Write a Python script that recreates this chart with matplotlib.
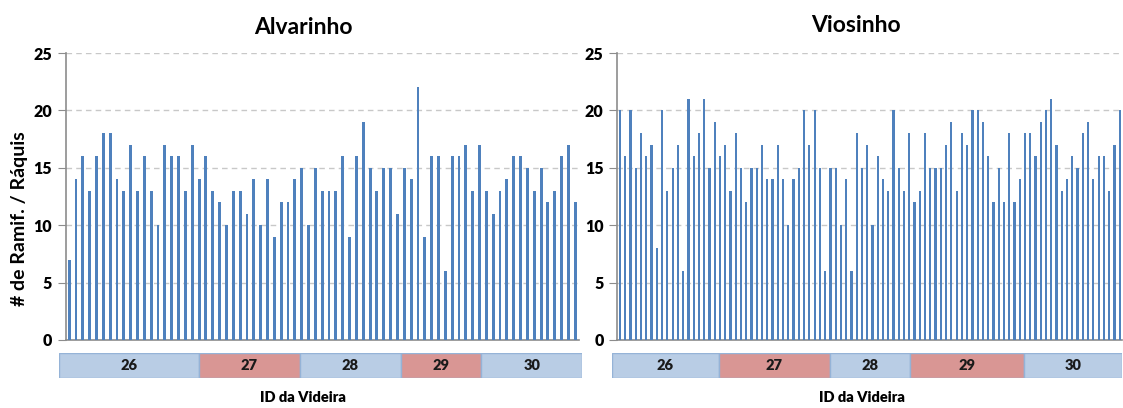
import matplotlib
matplotlib.use("Agg")
import matplotlib.pyplot as plt
from matplotlib.patches import Rectangle

plt.rcParams['font.family'] = ['Lato', 'DejaVu Sans']

# number of ramifications per rachis, one value per bunch
alvarinho = [7, 14, 16, 13, 16, 18, 18, 14, 13, 17, 13, 16, 13, 10, 17, 16, 16, 13, 17, 14,
             16, 13, 12, 10, 13, 13, 11, 14, 10, 14, 9, 12, 12, 14, 15, 10, 15, 13, 13, 13,
             16, 9, 16, 19, 15, 13, 15, 15, 11, 15, 14, 22, 9, 16, 16, 6, 16, 16, 17, 13,
             17, 13, 11, 13, 14, 16, 16, 15, 13, 15, 12, 13, 16, 17, 12]
viosinho = [20, 16, 20, 15, 18, 16, 17, 8, 20, 13, 15, 17, 6, 21, 16, 18, 21, 15, 19, 16,
            17, 13, 18, 15, 12, 15, 15, 17, 14, 14, 17, 14, 10, 14, 15, 20, 17, 20, 15, 6,
            15, 15, 10, 14, 6, 18, 15, 17, 10, 16, 14, 13, 20, 15, 13, 18, 12, 13, 18, 15,
            15, 15, 17, 19, 13, 18, 17, 20, 20, 19, 16, 12, 15, 12, 18, 12, 14, 18, 18, 16,
            19, 20, 21, 17, 13, 14, 16, 15, 18, 19, 14, 16, 16, 13, 17, 20]

# vine id strips under each chart (edges in bar units)
vine_ids = ['26', '27', '28', '29', '30']
alv_edges = [0, 20, 34.5, 49, 60.5, 75]
vio_edges = [0, 20, 41, 56, 77.5, 96]
strip_colors = ['#B9CDE5', '#D99694', '#B9CDE5', '#D99694', '#B9CDE5']

W, H = 1123, 408
fig = plt.figure(figsize=(W / 100, H / 100), dpi=100)


def px(l, t, r, b):
    return [l / W, (H - b) / H, (r - l) / W, (b - t) / H]


def draw_panel(rect, values):
    ax = fig.add_axes(rect)
    n = len(values)
    ax.bar(range(n), values, width=0.42, color='#4F81BD', zorder=3)
    ax.set_xlim(-0.5, n - 0.5)
    ax.set_ylim(0, 25)
    ax.set_yticks(range(0, 26, 5))
    ax.set_xticks([])
    ax.grid(axis='y', linestyle=(0, (4, 3)), color='#C8C8C8', linewidth=1, zorder=0)
    for s in ['top', 'right']:
        ax.spines[s].set_visible(False)
    ax.spines['left'].set_color('#8C8C8C')
    ax.spines['bottom'].set_color('#8C8C8C')
    ax.spines['left'].set_linewidth(1.2)
    ax.spines['bottom'].set_linewidth(1.2)
    ax.tick_params(axis='y', length=6, color='#8C8C8C', labelsize=11.5, pad=4)
    for lab in ax.get_yticklabels():
        lab.set_fontweight('heavy')
    return ax


def draw_strip(rect, edges):
    ax = fig.add_axes(rect)
    ax.set_xlim(edges[0], edges[-1])
    ax.set_ylim(0, 1)
    ax.axis('off')
    for i in range(len(vine_ids)):
        ax.add_patch(Rectangle((edges[i], 0), edges[i + 1] - edges[i], 1,
                               facecolor=strip_colors[i], edgecolor='#95B3D7', linewidth=1))
        ax.text((edges[i] + edges[i + 1]) / 2, 0.5, vine_ids[i], ha='center', va='center',
                fontsize=10.5, fontweight='heavy', color='#1a1a1a')
    return ax


ax1 = draw_panel(px(65.7, 53, 578.7, 340), alvarinho)
ax2 = draw_panel(px(617.4, 53, 1122.3, 340), viosinho)

fig.text(303 / W, (H - 28) / H, 'Alvarinho', ha='center', va='center',
         fontsize=16.5, fontweight='bold')
fig.text(856 / W, (H - 25) / H, 'Viosinho', ha='center', va='center',
         fontsize=16.5, fontweight='bold')
fig.text(20 / W, (H - 219) / H, '# de Ramif. / Ráquis', ha='center', va='center',
         rotation=90, fontsize=14, fontweight='bold')

draw_strip(px(59.3, 353.3, 582.3, 378.3), alv_edges)
draw_strip(px(612.3, 353.3, 1122.3, 378.3), vio_edges)

fig.text(303 / W, (H - 398) / H, 'ID da Videira', ha='center', va='center',
         fontsize=10.5, fontweight='heavy')
fig.text(862 / W, (H - 398) / H, 'ID da Videira', ha='center', va='center',
         fontsize=10.5, fontweight='heavy')

fig.savefig('out.png', dpi=100)
